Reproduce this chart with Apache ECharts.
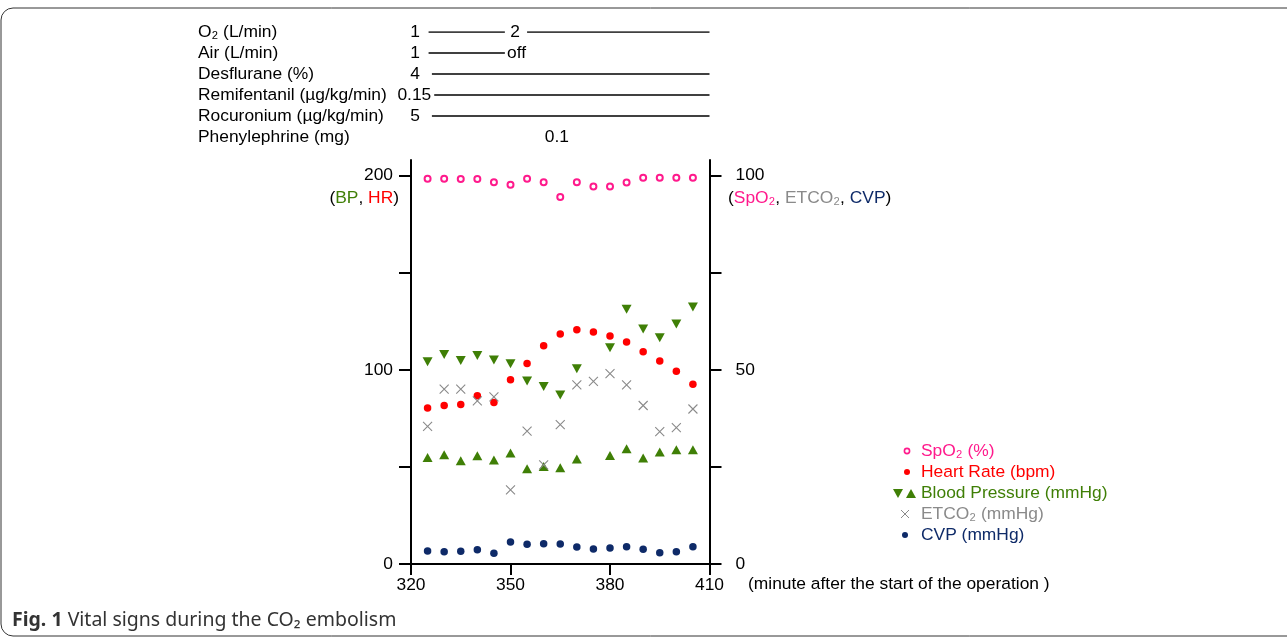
<!DOCTYPE html>
<html>
<head>
<meta charset="utf-8">
<title>Vital signs during the CO2 embolism</title>
<script src="https://cdn.jsdelivr.net/npm/echarts@6/dist/echarts.min.js"></script>
<style>
    html, body {
        margin: 0;
        padding: 0;
        background: #fff;
    }
    #chart {
        width: 1287px;
        height: 640px;
    }
</style>
</head>
<body>
<div id="chart"></div>
<script>
// time points (minute after the start of the operation)
const minutes = [325, 330, 335, 340, 345, 350, 355, 360, 365, 370, 375, 380, 385, 390, 395, 400, 405];

// left axis (BP, HR)
const heartRate = [80.3, 81.6, 82.1, 86.6, 83.1, 94.8, 103.2, 112.4, 118.4, 120.6, 119.4, 117.4, 114.3, 109.3, 104.5, 99.3, 92.6];
const bpSystolic = [104.1, 107.9, 104.8, 107.4, 105.0, 103.1, 94.2, 91.4, 87.0, 100.5, null, 111.3, 131.1, 121.0, 116.5, 123.6, 132.3];
const bpDiastolic = [54.8, 56.2, 53.1, 55.7, 53.5, 57.2, 49.0, 50.2, 49.5, 54.0, null, 55.8, 59.4, 54.6, 57.7, 58.8, 58.8];

// right axis (SpO2, ETCO2, CVP)
const spo2 = [99.2, 99.2, 99.1, 99.1, 98.3, 97.6, 99.2, 98.3, 94.5, 98.3, 97.2, 97.2, 98.2, 99.4, 99.4, 99.4, 99.4];
const etco2 = [35.4, 45.0, 45.0, 42.0, 43.0, 19.1, 34.2, 25.5, 35.9, 46.1, 47.0, 49.0, 46.1, 40.8, 34.1, 35.1, 39.9];
const cvp = [3.35, 3.17, 3.27, 3.69, 2.76, 5.67, 5.08, 5.23, 5.15, 4.38, 3.87, 4.12, 4.46, 3.79, 2.91, 3.17, 4.46];

// axis ticks and labels
const xTicks = [320, 350, 380, 410];
const leftTicks = [0, 50, 100, 150, 200];
const leftLabels = [0, 100, 200];
const rightTicks = [0, 25, 50, 75, 100];
const rightLabels = [0, 50, 100];

// drug / gas rows above the chart
const drugRows = ['O₂ (L/min)', 'Air (L/min)', 'Desflurane (%)', 'Remifentanil (µg/kg/min)', 'Rocuronium (µg/kg/min)', 'Phenylephrine (mg)'];
// [row, from minute, to minute]
const drugSegments = [[0, 325.3, 348.3], [0, 355.0, 410], [1, 325.3, 348.3], [2, 326.3, 410], [3, 327.0, 410], [4, 326.3, 410]];
// [minute, row, text]
const drugValues = [[321.2, 0, '1'], [351.4, 0, '2'], [321.2, 1, '1'], [351.8, 1, 'off'], [321.2, 2, '4'], [321.0, 3, '0.15'], [321.2, 4, '5'], [364.0, 5, '0.1']];

const PINK = '#ff1a8c';
const RED = '#ff0000';
const GREEN = '#3f7f06';
const GRAY = '#8a8a8a';
const NAVY = '#0e2a68';
const FONT = '"Liberation Sans", Arial, sans-serif';
const FS = 17.4;

const pairs = (ys) => minutes.map((m, i) => [m, ys[i]]);
const crossPath = 'path://M0,0L10,10M10,0L0,10';

const chart = echarts.init(document.getElementById('chart'));

const legendItems = [
    { name: 'SpO₂ (%)', color: PINK },
    { name: 'Heart Rate (bpm)', color: RED },
    { name: 'Blood Pressure (mmHg)', color: GREEN },
    { name: 'ETCO₂ (mmHg)', color: GRAY },
    { name: 'CVP (mmHg)', color: NAVY }
];

// legend drawn by hand (BP needs a double symbol)
const legendGraphic = [];
legendItems.forEach((item, i) => {
    const y = 451 + i * 21;
    legendGraphic.push({
        type: 'text',
        style: { x: 921, y: y, text: item.name, fill: item.color, font: FS + 'px ' + FONT, verticalAlign: 'middle' }
    });
});
legendGraphic.push(
    { type: 'circle', shape: { cx: 907, cy: 451, r: 2.6 }, style: { fill: '#fff', stroke: PINK, lineWidth: 1.6 } },
    { type: 'circle', shape: { cx: 907, cy: 472, r: 3 }, style: { fill: RED } },
    { type: 'polygon', shape: { points: [[893, 489], [903, 489], [898, 498]] }, style: { fill: GREEN } },
    { type: 'polygon', shape: { points: [[906, 498], [916, 498], [911, 489]] }, style: { fill: GREEN } },
    { type: 'polyline', shape: { points: [[901, 510], [909, 518]] }, style: { stroke: GRAY, lineWidth: 1 } },
    { type: 'polyline', shape: { points: [[909, 510], [901, 518]] }, style: { stroke: GRAY, lineWidth: 1 } },
    { type: 'circle', shape: { cx: 905, cy: 535, r: 3 }, style: { fill: NAVY } }
);

const option = {
    animation: false,
    textStyle: { fontFamily: FONT },
    grid: [
        { left: 411, top: 160, width: 298.5, height: 404 },
        { left: 411, top: 32, width: 298.5, height: 105 }
    ],
    xAxis: [
        {
            type: 'value',
            gridIndex: 0,
            min: 320,
            max: 410,
            interval: 30,
            axisLine: { lineStyle: { color: '#000', width: 2 } },
            axisTick: { length: 11, lineStyle: { color: '#000', width: 2 } },
            axisLabel: { color: '#000', fontSize: FS, margin: 13 },
            splitLine: { show: false }
        },
        {
            type: 'value',
            gridIndex: 1,
            min: 320,
            max: 410,
            show: false
        }
    ],
    yAxis: [
        {
            type: 'value',
            gridIndex: 0,
            min: 0,
            max: 208,
            position: 'left',
            axisLine: { show: true, lineStyle: { color: '#000', width: 2 } },
            axisTick: { show: true, length: 12, customValues: leftTicks, lineStyle: { color: '#000', width: 2 } },
            axisLabel: { color: '#000', fontSize: FS, margin: 18, customValues: leftLabels },
            splitLine: { show: false }
        },
        {
            type: 'value',
            gridIndex: 0,
            min: 0,
            max: 104,
            position: 'right',
            axisLine: { show: true, lineStyle: { color: '#000', width: 2 } },
            axisTick: { show: true, length: 12, customValues: rightTicks, lineStyle: { color: '#000', width: 2 } },
            axisLabel: { color: '#000', fontSize: FS, margin: 26, customValues: rightLabels },
            splitLine: { show: false }
        },
        {
            type: 'category',
            gridIndex: 1,
            data: drugRows,
            inverse: true,
            boundaryGap: false,
            axisLine: { show: false },
            axisTick: { show: false },
            axisLabel: { color: '#000', fontSize: FS, align: 'left', margin: 213, interval: 0 },
            splitLine: { show: false }
        }
    ],
    series: [
        {
            name: 'BP systolic',
            type: 'scatter',
            data: pairs(bpSystolic),
            symbol: 'triangle',
            symbolRotate: 180,
            symbolSize: [10, 9],
            itemStyle: { color: GREEN, opacity: 1 }
        },
        {
            name: 'BP diastolic',
            type: 'scatter',
            data: pairs(bpDiastolic),
            symbol: 'triangle',
            symbolSize: [10, 9],
            itemStyle: { color: GREEN, opacity: 1 }
        },
        {
            name: 'Heart Rate',
            type: 'scatter',
            data: pairs(heartRate),
            symbolSize: 7.5,
            itemStyle: { color: RED, opacity: 1 }
        },
        {
            name: 'ETCO2',
            type: 'scatter',
            yAxisIndex: 1,
            data: pairs(etco2),
            symbol: crossPath,
            symbolSize: 9,
            itemStyle: { color: 'none', borderColor: GRAY, borderWidth: 1.1, opacity: 1 }
        },
        {
            name: 'SpO2',
            type: 'scatter',
            yAxisIndex: 1,
            data: pairs(spo2),
            symbolSize: 6,
            itemStyle: { color: '#fff', borderColor: PINK, borderWidth: 2, opacity: 1 }
        },
        {
            name: 'CVP',
            type: 'scatter',
            yAxisIndex: 1,
            data: pairs(cvp),
            symbolSize: 7.5,
            itemStyle: { color: NAVY, opacity: 1 }
        },
        // drug rows
        {
            type: 'lines',
            coordinateSystem: 'cartesian2d',
            xAxisIndex: 1,
            yAxisIndex: 2,
            data: drugSegments.map(s => ({ coords: [[s[1], s[0]], [s[2], s[0]]] })),
            lineStyle: { color: '#000', width: 1.5, opacity: 1 }
        },
        {
            type: 'scatter',
            xAxisIndex: 1,
            yAxisIndex: 2,
            data: drugValues,
            symbolSize: 1,
            itemStyle: { color: '#fff', opacity: 1 },
            label: {
                show: true,
                position: 'inside',
                color: '#000',
                opacity: 1,
                fontSize: FS,
                formatter: p => p.value[2]
            }
        }
    ],
    graphic: [
        {
            type: 'rect',
            shape: { x: 1, y: 8, width: 1320, height: 628, r: 12 },
            style: { fill: 'none', stroke: '#333', lineWidth: 1 }
        },
        {
            type: 'text',
            style: {
                x: 399, y: 198, align: 'right', verticalAlign: 'middle',
                text: '({g|BP}, {r|HR})',
                font: FS + 'px ' + FONT, fill: '#000',
                rich: { g: { fill: GREEN, font: FS + 'px ' + FONT }, r: { fill: RED, font: FS + 'px ' + FONT } }
            }
        },
        {
            type: 'text',
            style: {
                x: 728, y: 198, align: 'left', verticalAlign: 'middle',
                text: '({p|SpO₂}, {g|ETCO₂}, {n|CVP})',
                font: FS + 'px ' + FONT, fill: '#000',
                rich: {
                    p: { fill: PINK, font: FS + 'px ' + FONT },
                    g: { fill: GRAY, font: FS + 'px ' + FONT },
                    n: { fill: NAVY, font: FS + 'px ' + FONT }
                }
            }
        },
        {
            type: 'text',
            style: {
                x: 748, y: 584, verticalAlign: 'middle',
                text: '(minute after the start of the operation )',
                font: '17.4px ' + FONT, fill: '#000'
            }
        },
        {
            type: 'text',
            style: {
                x: 12, y: 620, verticalAlign: 'middle',
                text: '{b|Fig. 1} Vital signs during the CO₂ embolism',
                font: '19.5px "Noto Sans", "Open Sans", sans-serif', fill: '#333',
                rich: { b: { fill: '#333', font: 'bold 19.5px "Noto Sans", "Open Sans", sans-serif' } }
            }
        }
    ].concat(legendGraphic)
};

chart.setOption(option);
</script>
</body>
</html>
